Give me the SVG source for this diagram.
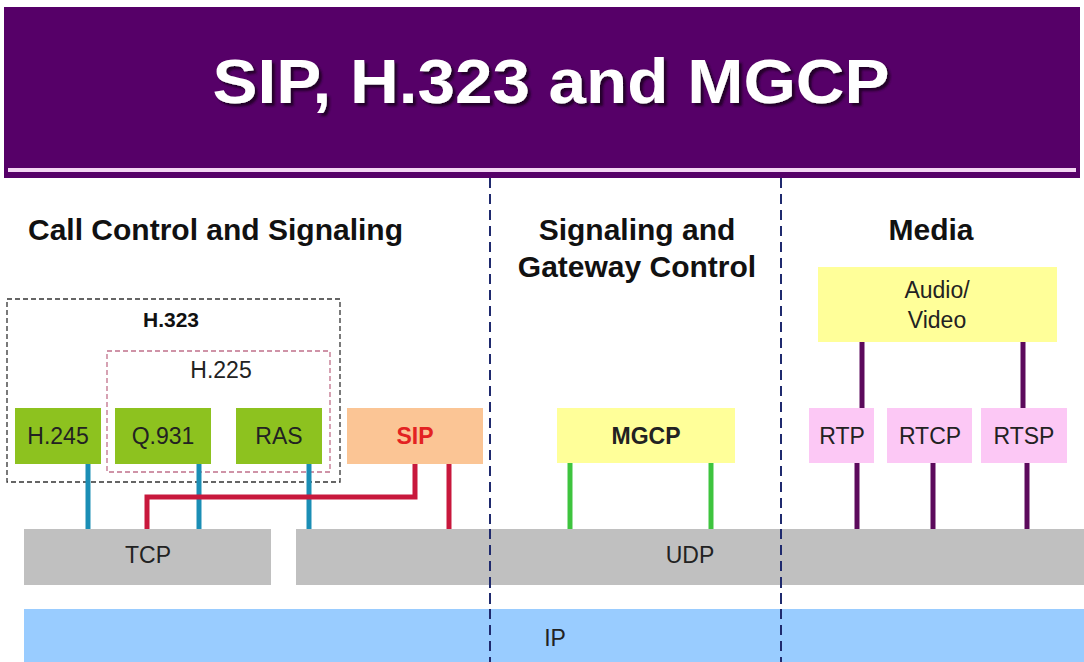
<svg xmlns="http://www.w3.org/2000/svg" width="1084" height="662" viewBox="0 0 1084 662">
<style>
text{font-family:"Liberation Sans",Arial,sans-serif;text-anchor:middle;fill:#222}
.hd{font-size:30px;font-weight:bold;fill:#111}
.lb{font-size:23px}
.b{font-weight:bold}
.sep{stroke:#1f2a6e;stroke-width:2;stroke-dasharray:10 6;fill:none}
.cn{stroke-width:5;fill:none}
</style>
<defs>
<filter id="sh" x="-5%" y="-20%" width="110%" height="140%">
<feDropShadow dx="3" dy="3" stdDeviation="1" flood-color="#1a0020" flood-opacity="0.9"/>
</filter>
</defs>
<rect width="1084" height="662" fill="#fff"/>
<g id="title">
<rect x="4" y="7" width="1076" height="171" fill="#560068"/>
<rect x="8" y="168" width="1068" height="4" fill="#f3d6f3"/>
<text x="551" y="103" font-size="63" font-weight="bold" fill="#fff" style="fill:#fff" textLength="677" lengthAdjust="spacingAndGlyphs" filter="url(#sh)">SIP, H.323 and MGCP</text>
</g>
<g id="separators">
<line class="sep" x1="490" y1="178" x2="490" y2="662"/>
<line class="sep" x1="781" y1="178" x2="781" y2="662"/>
</g>
<g id="headers">
<text class="hd" x="28" y="240" style="text-anchor:start">Call Control and Signaling</text>
<text class="hd" x="637" y="240">Signaling and</text>
<text class="hd" x="637" y="277">Gateway Control</text>
<text class="hd" x="931" y="240">Media</text>
</g>
<g id="h323">
<rect x="7" y="299" width="333" height="183" fill="none" stroke="#333" stroke-width="1.3" stroke-dasharray="5 3"/>
<text x="171" y="327" font-size="21" class="b" style="fill:#111">H.323</text>
</g>
<g id="h225">
<rect x="107" y="351" width="223" height="121" fill="none" stroke="#c0708a" stroke-width="1.3" stroke-dasharray="5 3"/>
<text class="lb" x="221" y="378">H.225</text>
</g>
<g id="connectors">
<line class="cn" stroke="#1b8eb5" x1="88" y1="464" x2="88" y2="530"/>
<line class="cn" stroke="#1b8eb5" x1="199" y1="464" x2="199" y2="530"/>
<line class="cn" stroke="#1b8eb5" x1="309" y1="464" x2="309" y2="530"/>
<polyline class="cn" stroke="#c8183c" points="415,464 415,497 147,497 147,530"/>
<line class="cn" stroke="#c8183c" x1="449" y1="464" x2="449" y2="530"/>
<line class="cn" stroke="#3ec43e" x1="570" y1="463" x2="570" y2="530"/>
<line class="cn" stroke="#3ec43e" x1="711" y1="463" x2="711" y2="530"/>
<line class="cn" stroke="#5c0a5c" x1="862" y1="342" x2="862" y2="408"/>
<line class="cn" stroke="#5c0a5c" x1="1023" y1="342" x2="1023" y2="408"/>
<line class="cn" stroke="#5c0a5c" x1="857" y1="463" x2="857" y2="530"/>
<line class="cn" stroke="#5c0a5c" x1="933" y1="463" x2="933" y2="530"/>
<line class="cn" stroke="#5c0a5c" x1="1027" y1="463" x2="1027" y2="530"/>
</g>
<g id="h245">
<rect x="15" y="408" width="86" height="56" fill="#8dc21f"/>
<text class="lb" x="58" y="444">H.245</text>
</g>
<g id="q931">
<rect x="115" y="408" width="96" height="56" fill="#8dc21f"/>
<text class="lb" x="163" y="444">Q.931</text>
</g>
<g id="ras">
<rect x="236" y="408" width="86" height="56" fill="#8dc21f"/>
<text class="lb" x="279" y="444">RAS</text>
</g>
<g id="sip">
<rect x="347" y="408" width="136" height="56" fill="#fbc595"/>
<text class="lb b" x="415" y="444" style="fill:#e32222">SIP</text>
</g>
<g id="mgcp">
<rect x="557" y="408" width="178" height="55" fill="#ffff99"/>
<text class="lb b" x="646" y="444" font-size="22">MGCP</text>
</g>
<g id="audiovideo">
<rect x="818" y="267" width="239" height="75" fill="#ffff99"/>
<text class="lb" x="937" y="298">Audio/</text>
<text class="lb" x="937" y="328">Video</text>
</g>
<g id="rtp">
<rect x="809" y="408" width="65" height="55" fill="#fcc8f5"/>
<text class="lb" x="842" y="444">RTP</text>
</g>
<g id="rtcp">
<rect x="887" y="408" width="85" height="55" fill="#fcc8f5"/>
<text class="lb" x="930" y="444">RTCP</text>
</g>
<g id="rtsp">
<rect x="981" y="408" width="86" height="55" fill="#fcc8f5"/>
<text class="lb" x="1024" y="444">RTSP</text>
</g>
<g id="tcp">
<rect x="24" y="529" width="247" height="56" fill="#c0c0c0"/>
<text class="lb" x="148" y="563">TCP</text>
</g>
<g id="udp">
<rect x="296" y="529" width="788" height="56" fill="#c0c0c0"/>
<text class="lb" x="690" y="563">UDP</text>
</g>
<g id="ip">
<rect x="24" y="609" width="1060" height="53" fill="#99ccff"/>
<text class="lb" x="555" y="646">IP</text>
</g>
<g id="separators-over">
<line class="sep" x1="490" y1="529" x2="490" y2="662"/>
<line class="sep" x1="781" y1="529" x2="781" y2="662"/>
</g>
</svg>
